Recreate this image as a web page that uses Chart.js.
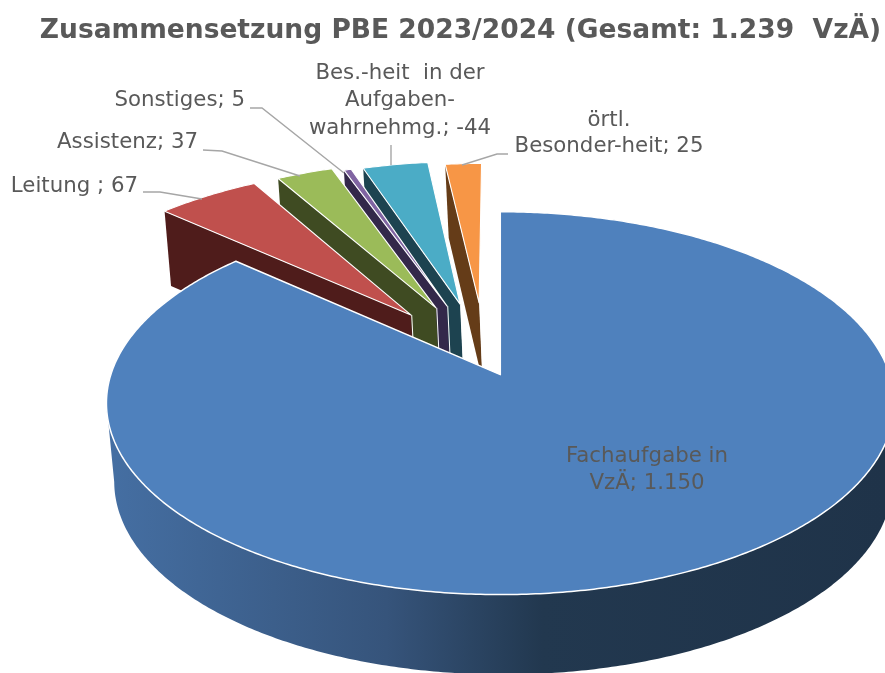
<!DOCTYPE html>
<html>
<head>
<meta charset="utf-8">
<script src="https://cdn.jsdelivr.net/npm/chart.js@4/dist/chart.umd.js"></script>
<style>html,body{margin:0;padding:0;background:#fff;overflow:hidden}canvas{display:block}</style>
</head>
<body>
<canvas id="c" width="885" height="673"></canvas>
<script>
const titleText = 'Zusammensetzung PBE 2023/2024 (Gesamt: 1.239  VzÄ)';
const categories = ['Fachaufgabe in\nVzÄ', 'Leitung ', 'Assistenz', 'Sonstiges', 'Bes.-heit  in der\nAufgaben-\nwahrnehmg.', 'örtl.\nBesonder-heit'];
const values = [1150, 67, 37, 5, -44, 25];
const topColors = ['#4f81bd', '#c0504d', '#9bbb59', '#8064a2', '#4bacc6', '#f79646'];
const sideColors = ['#2b4566', '#4f1c1b', '#3f4b22', '#33284a', '#1d4350', '#653c18'];

// layout of the drawing (camera + explosion), not data
const cam = {cx: 500, cy: 375, Rx: 389.6, Ry: 187.3, p: 0.149, depth: 82, qy: 0.0467, qx: 0.012, sx: 3};
const hub = {u: -0.038, v: 0.0886};
const explode = [0.095, 0.32, 0.32, 0.32, 0.32, 0.32];
const radius = [1, 1.005, 1.0, 0.975, 0.972, 0.95];
const labelFont = '21.3px "DejaVu Sans"';
const labelBoxes = [
  {x: 647, y: 456, lh: 27, align: 'center'},
  {x: 138, y: 186, lh: 27, align: 'right'},
  {x: 198, y: 142, lh: 27, align: 'right'},
  {x: 245, y: 100, lh: 27, align: 'right'},
  {x: 400, y: 73, lh: 27.5, align: 'center'},
  {x: 609, y: 120, lh: 26, align: 'center'}
];
const leaders = [
  null,
  [[143, 192], [160, 192], [202, 199]],
  [[203, 150], [222, 151], [300, 176]],
  [[250, 108], [262, 108], [344, 173]],
  [[391, 145], [391, 165]],
  [[508, 154], [497, 154], [462, 165]]
];

function project(u, v, z) {
  const w = 1 + cam.p * v;
  return [cam.cx + cam.sx * z + cam.Rx * u / (w + cam.qx * z), cam.cy - (cam.Ry * v - cam.depth * z) / (w + cam.qy * z)];
}
function sliceGeom(arc, i) {
  const mid = (arc.startAngle + arc.endAngle) / 2;
  const e = explode[i];
  return {
    au: hub.u + Math.cos(mid) * e,
    av: hub.v - Math.sin(mid) * e,
    r: radius[i], a0: arc.startAngle, a1: arc.endAngle
  };
}
function pt(g, a, rr, z) {
  return project(g.au + Math.cos(a) * rr, g.av - Math.sin(a) * rr, z);
}
function arcPoints(g, a0, a1, z) {
  const n = Math.max(2, Math.ceil(Math.abs(a1 - a0) / 0.01));
  const out = [];
  for (let k = 0; k <= n; k++) out.push(pt(g, a0 + (a1 - a0) * k / n, g.r, z));
  return out;
}
function poly(ctx, pts) {
  ctx.beginPath();
  pts.forEach((p, k) => k ? ctx.lineTo(p[0], p[1]) : ctx.moveTo(p[0], p[1]));
  ctx.closePath();
}
function drawTop(ctx, g, color, lw) {
  const pts = [project(g.au, g.av, 0)].concat(arcPoints(g, g.a0, g.a1, 0));
  poly(ctx, pts);
  ctx.fillStyle = color;
  ctx.fill();
  ctx.strokeStyle = '#ffffff';
  ctx.lineWidth = lw;
  ctx.lineJoin = 'round';
  ctx.stroke();
}

const pie3d = {
  id: 'pie3d',
  beforeDatasetsDraw(chart) {
    const ctx = chart.ctx;
    const arcs = chart.getDatasetMeta(0).data;
    ctx.save();
    // small slices, from right to left so that each one covers its neighbour's cut face
    for (let i = arcs.length - 1; i >= 1; i--) {
      const g = sliceGeom(arcs[i], i);
      const a0 = project(g.au, g.av, 0), a1 = project(g.au, g.av, 1);
      const c0 = pt(g, g.a0, g.r, 0), c1 = pt(g, g.a0, g.r, 1);
      poly(ctx, [a0, c0, c1, a1]);
      ctx.fillStyle = sideColors[i];
      ctx.fill();
      ctx.beginPath(); ctx.moveTo(a0[0] + 0.8, a0[1]); ctx.lineTo(a1[0] + 0.8, a1[1]);
      ctx.strokeStyle = '#ffffff'; ctx.lineWidth = 1; ctx.stroke();
      drawTop(ctx, g, topColors[i], 1.1);
    }
    // main slice: front part of the curved wall, between the two silhouette tangents, then top
    const g = sliceGeom(arcs[0], 0);
    const tangent = Math.asin(cam.p);
    const frontFrom = Math.max(g.a0, tangent), frontTo = Math.min(g.a1, Math.PI - tangent);
    const wall = arcPoints(g, frontFrom, frontTo, 0).concat(arcPoints(g, frontTo, frontFrom, 1));
    const grad = ctx.createLinearGradient(106, 0, 885, 0);
    grad.addColorStop(0, '#456fa3');
    grad.addColorStop(0.36, '#36547b');
    grad.addColorStop(0.56, '#22384f');
    grad.addColorStop(1, '#1f3349');
    ctx.fillStyle = grad;
    poly(ctx, wall);
    ctx.fill();
    drawTop(ctx, g, topColors[0], 1.5);
    ctx.restore();
    return false;
  },
  afterDraw(chart) {
    const ctx = chart.ctx;
    ctx.save();
    ctx.strokeStyle = '#a6a6a6';
    ctx.lineWidth = 1.4;
    leaders.forEach(l => {
      if (!l) return;
      ctx.beginPath();
      l.forEach((p, k) => k ? ctx.lineTo(p[0], p[1]) : ctx.moveTo(p[0], p[1]));
      ctx.stroke();
    });
    ctx.font = labelFont;
    ctx.fillStyle = '#595959';
    ctx.textBaseline = 'middle';
    categories.forEach((c, i) => {
      const lines = c.split('\n');
      lines[lines.length - 1] += '; ' + values[i].toLocaleString('de-DE');
      const b = labelBoxes[i];
      ctx.textAlign = b.align;
      lines.forEach((t, k) => ctx.fillText(t, b.x, b.y + k * b.lh));
    });
    ctx.restore();
  }
};

new Chart(document.getElementById('c'), {
  type: 'pie',
  data: {
    labels: categories,
    datasets: [{data: values, backgroundColor: topColors, borderColor: '#ffffff', borderWidth: 1}]
  },
  options: {
    responsive: false,
    animation: false,
    layout: {padding: {left: 36, top: 0}},
    plugins: {
      legend: {display: false},
      tooltip: {enabled: false},
      title: {
        display: true,
        text: titleText,
        color: '#595959',
        font: {family: '"DejaVu Sans"', size: 26.5, weight: 'bold'},
        padding: {top: 15, bottom: 10}
      }
    }
  },
  plugins: [pie3d]
});
</script>
</body>
</html>
